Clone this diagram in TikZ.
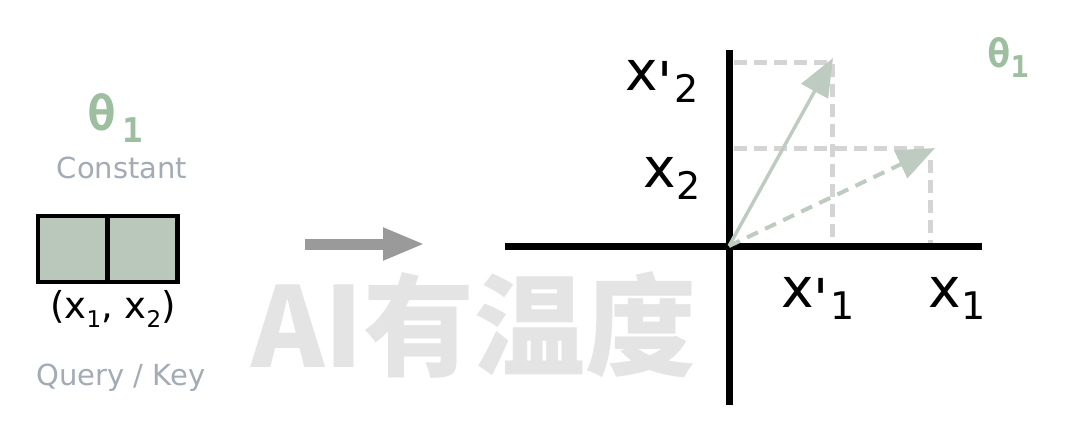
\documentclass[tikz,border=0pt]{standalone}
\usepackage{fontspec}
\setmainfont{DejaVu Sans}
\newfontfamily\thetafont{DejaVu Sans Mono}
\newfontfamily\wmfont{Noto Sans CJK SC}
\usetikzlibrary{arrows.meta}
\definecolor{thetagreen}{HTML}{9DBE9F}
\definecolor{softgray}{HTML}{A3ABB5}
\definecolor{cellfill}{HTML}{BAC8BC}
\definecolor{vecgreen}{HTML}{BDCBC0}
\definecolor{guidegray}{HTML}{D4D4D4}
\definecolor{arrowgray}{HTML}{9A9A9A}
\definecolor{wmgray}{HTML}{E4E4E4}
\newcommand{\axlab}[2]{{\fontsize{27.5pt}{30pt}\selectfont #1}\raisebox{-6pt}{\fontsize{19pt}{20pt}\selectfont #2}}
\newcommand{\axprime}{\raisebox{-5.5pt}{\fontsize{27.5pt}{30pt}\selectfont\textquotesingle}\hspace{1pt}}
\tikzset{
  axisline/.style={line width=3.5pt, black},
  guide/.style={line width=2.5pt, guidegray, dash pattern=on 6.5pt off 3.5pt},
  vec/.style={line width=1.7pt, vecgreen, -{Triangle[length=19pt,width=15pt]}},
  lbl/.style={anchor=base, inner sep=0pt, outer sep=0pt},
  cell/.style={draw=black, line width=2.25pt, fill=cellfill, minimum width=35pt, minimum height=33pt, inner sep=0pt, outer sep=0pt},
}
\begin{document}
\begin{tikzpicture}[x=0.5pt,y=-0.5pt]
\useasboundingbox (0,0) rectangle (1080,445);
\fill[white] (0,0) rectangle (1080,445);
% watermark
\node[lbl, text=wmgray] (wm) at (474,367) {\wmfont\bfseries\fontsize{55.5pt}{60pt}\selectfont AI有温度};
% left panel
\node[lbl, text=thetagreen] (thl) at (115,130) {\thetafont\bfseries\fontsize{24pt}{28pt}\selectfont θ\hspace{3pt}\raisebox{-6pt}{\fontsize{17pt}{18pt}\selectfont 1}};
\node[lbl, text=softgray] (const) at (122,178) {\fontsize{14.5pt}{16pt}\selectfont Constant};
\node[cell] (c1) at (73,249) {};
\node[cell] (c2) at (142.5,249) {};
\node[lbl] (pair) at (113,318) {\fontsize{18.5pt}{20pt}\selectfont (x\raisebox{-4.5pt}{\fontsize{11.5pt}{12pt}\selectfont 1}, x\raisebox{-4.5pt}{\fontsize{11.5pt}{12pt}\selectfont 2})};
\node[lbl, text=softgray] (qk) at (121,385) {\fontsize{14.5pt}{16pt}\selectfont Query / Key};
% transition arrow
\coordinate (ta) at (305,244);
\coordinate (tb) at (425,244);
\draw[line width=5.5pt, arrowgray, -{Triangle[length=21pt,width=15pt]}] (ta) -- (tb);
% axes
\coordinate (o) at (729,246);
\coordinate (xl) at (505,246);
\coordinate (xr) at (982,246);
\coordinate (yt) at (729,50);
\coordinate (yb) at (729,405);
% guides
\coordinate (g1a) at (734,62);
\coordinate (g1b) at (832,62);
\coordinate (g1c) at (832,243);
\coordinate (g2a) at (734,148);
\coordinate (g2b) at (924,148);
\coordinate (g2c) at (930,160);
\coordinate (g2d) at (930,243);
\draw[guide] (g1a) -- (g1b) -- (g1c);
\draw[guide] (g2a) -- (g2b);
\draw[guide] (g2c) -- (g2d);
\draw[axisline] (xl) -- (xr);
\draw[axisline] (yt) -- (yb);
% vectors
\coordinate (vs) at (833,58);
\coordinate (vd) at (935,148);
\draw[vec] (o) -- (vs);
\draw[vec, dash pattern=on 6pt off 4pt, line width=2pt] (o) -- (vd);
% axis labels
\node[lbl] (lx2p) at (662,90) {\axlab{x\axprime}{2}};
\node[lbl] (lx2) at (672,187) {\axlab{x}{2}};
\node[lbl] (lx1p) at (818,307) {\axlab{x\axprime}{1}};
\node[lbl] (lx1) at (957,307) {\axlab{x}{1}};
\node[lbl, text=thetagreen] (thr) at (1008,67) {\thetafont\bfseries\fontsize{19.5pt}{22pt}\selectfont θ\raisebox{-5pt}{\fontsize{15pt}{16pt}\selectfont 1}};
\end{tikzpicture}
\end{document}
